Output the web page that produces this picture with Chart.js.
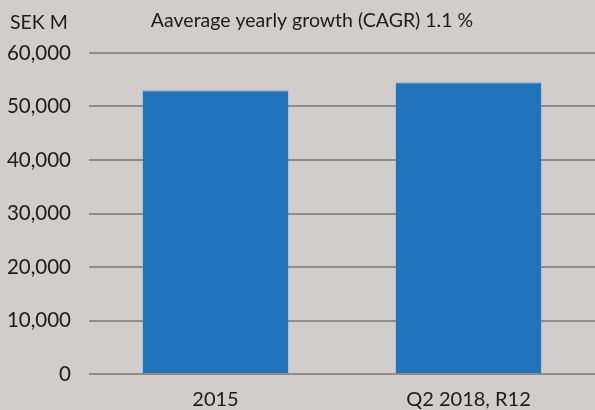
<!DOCTYPE html>
<html>
<head>
<meta charset="utf-8">
<script src="https://cdn.jsdelivr.net/npm/chart.js@4"></script>
<style>
    html, body { margin: 0; padding: 0; background: #d1cdca; }
    #wrap { width: 595px; height: 410px; }
</style>
</head>
<body>
<div id="wrap"><canvas id="chart"></canvas></div>
<script>
const categories = ["2015", "Q2 2018, R12"];
const revenue = [53000, 54500];
const yTicks = [0, 10000, 20000, 30000, 40000, 50000, 60000];
const unitLabel = "SEK M";
const titleText = "Aaverage yearly growth (CAGR) 1.1 %";

const fontFamily = "Lato, 'Liberation Sans', sans-serif";
const textColor = "#1c1c1c";

// extra labels above the plot
const headerText = {
    id: 'headerText',
    afterDraw(chart) {
        const ctx = chart.ctx;
        ctx.save();
        ctx.fillStyle = textColor;
        ctx.textBaseline = 'middle';
        ctx.font = "19.5px " + fontFamily;
        ctx.textAlign = 'left';
        ctx.fillText(unitLabel, 10, 23);
        ctx.textAlign = 'center';
        ctx.fillText(titleText, 312, 21);
        ctx.restore();
    }
};

let config = {
    type: 'bar',
    data: {
        labels: categories,
        datasets: [{
            data: revenue,
            backgroundColor: '#2173bb',
            borderColor: '#3f86c4',
            borderWidth: {top: 1, left: 0, right: 0, bottom: 0},
            barPercentage: 0.576,
            categoryPercentage: 1
        }]
    },
    options: {
        responsive: true,
        maintainAspectRatio: false,
        animation: false,
        layout: {
            padding: {top: 53, right: 0, bottom: 0, left: 0}
        },
        plugins: {
            legend: { display: false },
            tooltip: { enabled: false },
            title: { display: false }
        },
        scales: {
            x: {
                grid: { display: false, drawTicks: false },
                border: { display: false },
                ticks: {
                    color: textColor,
                    font: { family: fontFamily, size: 20 },
                    padding: 14
                },
                afterFit: (scale) => { scale.height = 36; }
            },
            y: {
                min: 0,
                max: 60000,
                afterBuildTicks: (scale) => {
                    scale.ticks = yTicks.map(v => ({value: v}));
                },
                grid: {
                    color: '#8f8d8b',
                    lineWidth: 2,
                    drawTicks: false
                },
                border: { display: false },
                ticks: {
                    color: textColor,
                    font: { family: fontFamily, size: 20.5 },
                    padding: 18,
                    callback: (v) => v.toLocaleString('en-US')
                },
                afterFit: (scale) => { scale.width = 89; }
            }
        }
    },
    plugins: [headerText]
};

new Chart(document.getElementById('chart'), config);
</script>
</body>
</html>
